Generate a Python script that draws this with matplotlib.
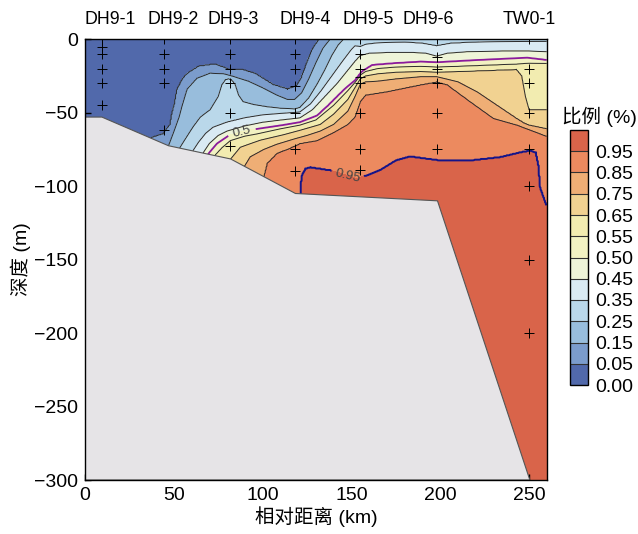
import numpy as np
import matplotlib
matplotlib.use('Agg')
import matplotlib.pyplot as plt
from matplotlib.patches import Polygon
from matplotlib.transforms import blended_transform_factory

plt.rcParams['font.family'] = ['Liberation Sans', 'Noto Sans CJK SC']
plt.rcParams['axes.unicode_minus'] = True

# ---------------- data ----------------
levels = [0.00, 0.05, 0.15, 0.25, 0.35, 0.45, 0.50, 0.55, 0.65, 0.75, 0.85, 0.95, 1.00]
band_colors = ['#5169ab', '#7b9ccc', '#98bddc', '#bad8ea', '#d9eaf3', '#eef4d8',
               '#f2f2c2', '#f2ecb0', '#f1d291', '#efae75', '#ec8a5f', '#d9644a']

# contour paths (distance km, depth m) for each ratio level
iso_x = {
    0.05: [0, 37.5, 44, 48, 49, 50.5, 52, 55, 57.5, 64, 73, 81, 88, 96, 106, 114, 119, 122, 126, 128.5, 132, 140, 260],
    0.15: [0, 47, 50, 53, 54.5, 57.4, 63, 70.5, 78, 81, 84, 92, 100, 108, 114, 118, 122, 126, 130, 134, 138, 150, 260],
    0.25: [0, 53.6, 57, 61, 65, 70.5, 75, 77, 79, 80.8, 82.5, 84.6, 86.5, 89, 95, 102.5, 110, 118, 121, 126, 131, 135, 139, 142.5, 145.5, 160, 260],
    0.35: [0, 61, 64, 68, 72, 80, 90, 100, 110, 121, 127, 133, 139, 145, 150, 152, 155, 158, 165, 180, 190, 198, 206, 220, 240, 260],
    0.45: [0, 66.7, 70, 75, 80, 90, 100, 110, 121, 128, 135, 142, 148, 152, 155, 160, 170, 185, 192, 198, 204, 215, 235, 250, 260],
    0.50: [0, 69.6, 74.3, 80.8, 88, 95, 111.8, 121, 130.7, 137, 143.8, 148, 152.3, 156, 161.7, 174, 189, 198.4, 221, 249, 260],
    0.55: [0, 73.3, 77, 81.8, 90, 96.8, 110, 121, 130, 140, 148, 152, 155, 158, 165, 175, 189, 198, 210, 221, 232, 243, 250, 260],
    0.65: [0, 82, 87.4, 98.7, 111.8, 121, 132.5, 140, 148, 152, 155, 158, 165, 175, 189, 198, 210, 221, 232, 243, 246, 248, 250, 260],
    0.75: [0, 90, 93, 100.6, 108, 117.5, 125, 132.5, 140, 148, 152, 155, 158, 165, 175, 189, 198, 210, 221, 232, 243, 247, 250, 260],
    0.85: [0, 100.6, 102.5, 108, 115.6, 121, 130.7, 140, 148, 152, 155, 158, 170, 189, 198, 204, 217, 230, 243.5, 250, 260],
    0.95: [0, 119, 120.5, 121.2, 121.8, 124, 127, 138, 153, 160, 166, 175, 183, 200, 217, 234, 245, 251, 254, 255.5, 256.5, 260],
}
iso_d = {
    0.05: [131, 67, 64.5, 58, 51, 44, 34, 27, 23.5, 18.5, 17, 20.5, 20.5, 23.5, 31, 34, 32, 26, 13, 6, 0, -15, -60],
    0.15: [160, 72.5, 63, 53, 46, 34, 26.5, 23, 23.5, 24.5, 25.5, 28.5, 33, 38, 41, 41, 36.5, 27, 16, 6, 0, -15, -50],
    0.25: [190, 73.5, 67, 59.5, 53, 48, 39, 31, 27.5, 26.8, 27.5, 30.5, 38, 42.5, 44.5, 46, 47, 47.5, 46.5, 40, 30, 21, 11, 4, 0, -12, -40],
    0.35: [210, 75.5, 70, 64, 60, 56.5, 53.5, 51.5, 50.5, 49.5, 44, 35, 25, 15, 7, 4.5, 5, 3.5, 2.5, 2, 2.8, 4.5, 2.8, 2, 1.8, 1.5],
    0.45: [230, 77, 71, 65.5, 62.5, 59, 56.5, 55, 53.5, 48, 39, 30, 21, 15, 11, 9.5, 9, 9, 9.5, 11.5, 9.5, 8.5, 8, 8, 8.5],
    0.50: [240, 77.7, 71, 65.7, 63, 61.4, 58.4, 56.5, 52, 45, 36.8, 32, 27.8, 22, 17.6, 16.4, 15.3, 15.7, 14.2, 12.6, 14.2],
    0.55: [250, 78.8, 74, 69, 66, 64.5, 61, 58.5, 55, 45, 35, 29.5, 24.5, 22, 20, 19, 18.5, 19, 18.5, 18, 17.5, 17, 16.2, 16.4],
    0.65: [270, 81.5, 73.5, 68.7, 65, 62, 58, 51, 41, 33, 27, 25, 23.5, 22.5, 22, 22.5, 22, 21.5, 21, 20.5, 25, 39, 48, 48],
    0.75: [290, 86, 80, 75, 71.5, 68, 65.5, 62.5, 58, 49, 39, 30.5, 29, 28.5, 27, 25.5, 25.5, 29, 36, 45, 54, 57, 58.5, 61],
    0.85: [310, 93.5, 84.5, 77.7, 74, 71, 69, 63.5, 58, 53, 42.5, 38, 35.7, 31, 29, 31, 42.6, 53.9, 58.5, 61.5, 66],
    0.95: [330, 330, 150, 101, 93, 88, 87, 89, 94.6, 92, 89, 82.3, 79.6, 82.3, 82.3, 80, 76.8, 75.6, 77, 86, 101, 113],
}

# seabed profile (distance km, depth m)
seabed_x = [0, 9.5, 47, 82, 118.5, 198.5, 250.5]
seabed_d = [53, 53, 72.5, 81.5, 105, 110, 300]

# sampling stations
station_names = ['DH9-1', 'DH9-2', 'DH9-3', 'DH9-4', 'DH9-5', 'DH9-6', 'TW0-1']
station_x = [9.5, 44.7, 81.8, 118.2, 155.1, 198.3, 250.0]
station_label_x = [14, 49.6, 83.5, 124, 159.6, 193.5, 250]
station_depths = [
    [0, 5, 10, 20, 30, 45],
    [0, 10, 20, 30, 62],
    [0, 10, 20, 30, 50, 73],
    [0, 10, 20, 32, 50, 75, 90],
    [0, 10, 20, 26, 30, 50, 75, 89],
    [0, 12, 20, 30, 50, 75],
    [0, 20, 30, 50, 75, 100, 150, 200],
]
xticks = [0, 50, 100, 150, 200, 250]
yticks = [-300, -250, -200, -150, -100, -50, 0]

# ---------------- field on a grid from the contour paths ----------------
xg = np.arange(0, 260.001, 0.5)
dg = np.arange(0, 300.001, 0.5)
iso_levels = sorted(iso_x.keys())
Z = np.empty((len(dg), len(xg)))
for j, x in enumerate(xg):
    ad = [-1000.0] + [float(np.interp(x, iso_x[l], iso_d[l])) for l in iso_levels] + [1000.0]
    av = [0.0] + iso_levels + [1.0]
    ad = np.maximum.accumulate(np.array(ad)) + np.arange(len(ad)) * 1e-6
    Z[:, j] = np.interp(dg, ad, av)

# ---------------- figure ----------------
fig = plt.figure(figsize=(6.38, 5.34), dpi=100)
ax = fig.add_axes([0.13323, 0.1011, 0.72367, 0.82549])

cf = ax.contourf(xg, -dg, Z, levels=levels, colors=band_colors)
black_levels = [0.05, 0.15, 0.25, 0.35, 0.45, 0.55, 0.65, 0.75, 0.85]
ax.contour(xg, -dg, Z, levels=black_levels, colors='#2a2a2a', linewidths=0.7)
cp = ax.contour(xg, -dg, Z, levels=[0.5], colors='#8b1a9c', linewidths=1.3)
cn = ax.contour(xg, -dg, Z, levels=[0.95], colors='#14148a', linewidths=1.4)
ax.clabel(cp, fmt='%.1f', manual=[(88, -61)], fontsize=9.5, colors='#444444', inline=True)
ax.clabel(cn, fmt='%.2f', manual=[(148, -93)], fontsize=9.5, colors='#444444', inline=True)

poly_xy = [(x, -d) for x, d in zip(seabed_x, seabed_d)] + [(0, -300)]
ax.add_patch(Polygon(poly_xy, closed=True, facecolor='#e6e4e7', edgecolor='#555555',
                     linewidth=0.8, zorder=3))

for sx, deps in zip(station_x, station_depths):
    ax.plot([sx] * len(deps), [-d for d in deps], linestyle='none', marker='+',
            color='black', markersize=6.5, markeredgewidth=0.7, zorder=4)

ax.set_xlim(0, 260)
ax.set_ylim(-300, 0)
ax.set_xticks(xticks)
ax.set_yticks(yticks)
ax.tick_params(direction='in', length=4, width=1, labelsize=14, top=False, right=False, pad=5)
for sp in ax.spines.values():
    sp.set_linewidth(1.0)
    sp.set_zorder(5)
ax.set_xlabel('相对距离 (km)', fontsize=14, labelpad=2)
ax.set_ylabel('深度 (m)', fontsize=14, labelpad=2)

trans = blended_transform_factory(ax.transData, ax.transAxes)
for name, lx in zip(station_names, station_label_x):
    ax.text(lx, 1.0436, name, transform=trans, ha='center', va='center', fontsize=12.8)

cax = fig.add_axes([570 / 638, 1 - 385 / 534, 18 / 638, 255 / 534])
cb = fig.colorbar(cf, cax=cax, ticks=levels[:-1], drawedges=True)
cb.ax.set_yticklabels(['%.2f' % v for v in levels[:-1]])
cb.ax.tick_params(length=0, labelsize=14, pad=5)
cb.outline.set_linewidth(1.0)
cb.dividers.set_color('#333333')
cb.dividers.set_linewidth(0.8)
fig.text(599 / 638, 1 - 117 / 534, '比例 (%)', ha='center', va='center', fontsize=14)

fig.savefig('out.png', dpi=100)
